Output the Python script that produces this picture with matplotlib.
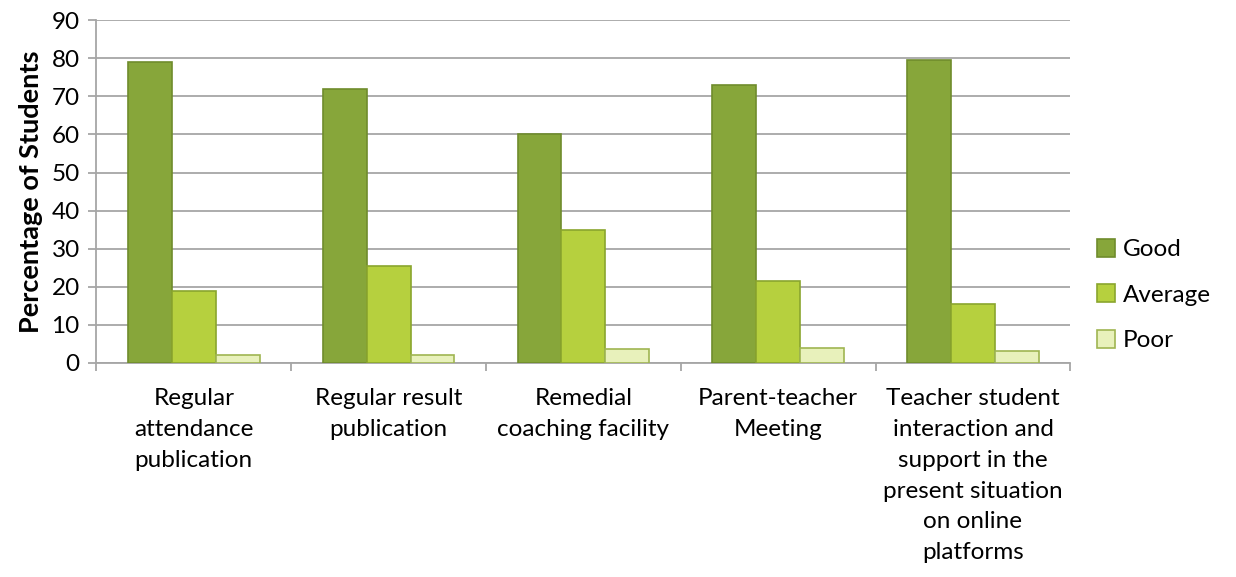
import numpy as np
import matplotlib.pyplot as plt

categories = [
    "Regular\nattendance\npublication",
    "Regular result\npublication",
    "Remedial\ncoaching facility",
    "Parent-teacher\nMeeting",
    "Teacher student\ninteraction and\nsupport in the\npresent situation\non online\nplatforms",
]
good = [79, 72, 60, 73, 79.5]
average = [19, 25.5, 35, 21.5, 15.5]
poor = [2, 2.2, 3.7, 4, 3.1]

series = [
    ("Good", good, "#87a63a", "#6f8c2c"),
    ("Average", average, "#b6d03e", "#8aa52e"),
    ("Poor", poor, "#e8f1bb", "#9fb552"),
]

plt.rcParams['font.family'] = ['Lato', 'DejaVu Sans']

fig = plt.figure(figsize=(12.36, 5.77), dpi=100)
ax = fig.add_axes([0.078, 0.371, 0.788, 0.594])

x = np.arange(len(categories))
w = 0.225
for i, (name, vals, fc, ec) in enumerate(series):
    ax.bar(x + (i - 1) * w, vals, width=w, color=fc, edgecolor=ec,
           linewidth=1.2, label=name, zorder=3)

ax.set_xlim(-0.5, len(categories) - 0.5)
ax.set_ylim(0, 90)
ax.set_yticks(range(0, 91, 10))
ax.yaxis.grid(True, color="#a6a6a6", linewidth=1.3, zorder=0)
ax.set_axisbelow(True)

for s in ["top", "right"]:
    ax.spines[s].set_visible(False)
ax.spines["left"].set_color("#a6a6a6")
ax.spines["bottom"].set_color("#a6a6a6")
ax.spines["left"].set_linewidth(1.3)
ax.spines["bottom"].set_linewidth(1.3)

ax.set_xticks(x)
ax.set_xticklabels(categories, fontsize=17.5, linespacing=1.58, va="top")
ax.set_xticks(np.arange(-0.5, len(categories), 1.0), minor=True)
ax.tick_params(axis="x", which="major", length=0, pad=18)
ax.tick_params(axis="x", which="minor", length=6, color="#a6a6a6", width=1.3)
ax.tick_params(axis="y", length=6, color="#a6a6a6", width=1.3, labelsize=17.5, pad=6)

ax.set_ylabel("Percentage of Students", fontsize=19.5, fontweight="bold", labelpad=6)

leg = ax.legend(loc="center left", bbox_to_anchor=(1.005, 0.198), frameon=False,
                fontsize=17.5, handlelength=0.75, handleheight=0.75,
                labelspacing=1.0, handletextpad=0.3)

fig.savefig("out.png", dpi=100)
